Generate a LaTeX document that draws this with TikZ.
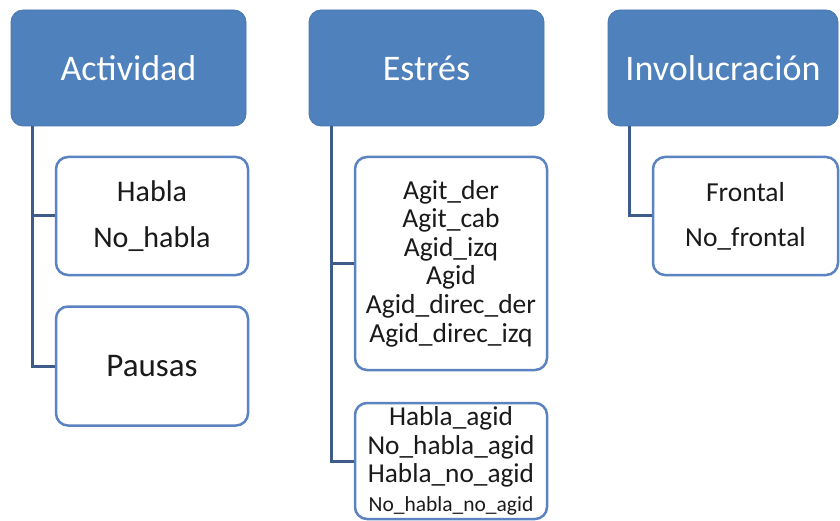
\documentclass[tikz,border=0pt]{standalone}
\usepackage{fontspec}
\setmainfont{Carlito}
\usetikzlibrary{positioning}
\definecolor{headblue}{HTML}{4F81BD}
\definecolor{headedge}{HTML}{4A78B0}
\definecolor{leafedge}{HTML}{5B83C1}
\definecolor{connblue}{HTML}{3D5C8A}
\definecolor{leaftext}{HTML}{1A1A1A}

\begin{document}
\begin{tikzpicture}[
    x=1pt,y=-1pt,
    head/.style={draw=headedge,fill=headblue,rounded corners=12pt,line width=0.8pt,text=white,font=\fontsize{36}{42}\selectfont,minimum height=116pt,inner sep=0pt},
    leaf/.style={draw=leafedge,fill=white,rounded corners=12pt,line width=2.5pt,align=center,text=leaftext,inner sep=0pt},
    conn/.style={draw=connblue,line width=3pt}
]
\useasboundingbox (0,0) rectangle (840,521);
% headers
\node[head,minimum width=235pt] (act) at (128.5,68) {Actividad};
\node[head,minimum width=235pt] (est) at (426.5,68) {Estrés};
\node[head,minimum width=230pt] (inv) at (723,68) {Involucración};
% leaves
\node[leaf,minimum width=192pt,minimum height=118pt,font=\fontsize{30}{46}\selectfont] (act1) at (152,216) {Habla\\No\_habla};
\node[leaf,minimum width=192pt,minimum height=119pt,font=\fontsize{33}{38}\selectfont] (act2) at (152,366) {Pausas};
\node[leaf,minimum width=192pt,minimum height=213pt,font=\fontsize{27.5}{28.6}\selectfont] (est1) at (451,263.5) {Agit\_der\\Agit\_cab\\Agid\_izq\\Agid\\Agid\_direc\_der\\Agid\_direc\_izq};
\node[leaf,minimum width=192pt,minimum height=116pt,font=\fontsize{27.3}{28.5}\selectfont] (est2) at (451,461) {Habla\_agid\\No\_habla\_agid\\Habla\_no\_agid\\{\fontsize{21.5}{26}\selectfont No\_habla\_no\_agid}};
\node[leaf,minimum width=185pt,minimum height=118pt,font=\fontsize{27.5}{45}\selectfont] (inv1) at (745.5,216) {Frontal\\No\_frontal};
% connectors
\draw[conn] ([xshift=22pt]act.south west) |- (act1.west);
\draw[conn] ([xshift=22pt]act.south west) |- (act2.west);
\draw[conn] ([xshift=23pt]est.south west) |- (est1.west);
\draw[conn] ([xshift=23pt]est.south west) |- (est2.west);
\draw[conn] ([xshift=22pt]inv.south west) |- (inv1.west);
\end{tikzpicture}
\end{document}
